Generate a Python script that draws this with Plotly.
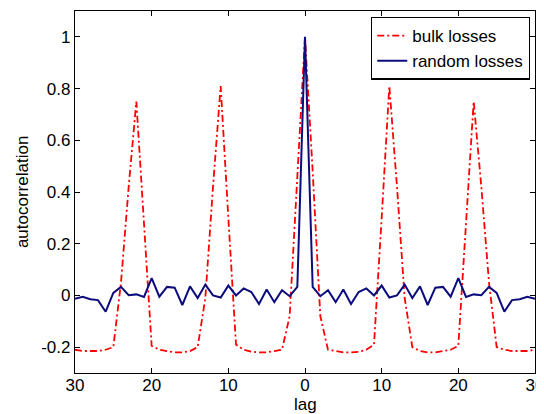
import plotly.graph_objects as go

lags = list(range(-30, 31))

bulk_losses = [
    -0.21, -0.215, -0.215, -0.215, -0.21, -0.20, 0.05, 0.42, 0.75, 0.28,
    -0.195, -0.21, -0.215, -0.22, -0.22, -0.215, -0.20, -0.01, 0.42, 0.81,
    0.30, -0.19, -0.21, -0.218, -0.22, -0.22, -0.215, -0.21, -0.08, 0.48,
    1.0,
    0.48, -0.08, -0.21, -0.215, -0.22, -0.22, -0.218, -0.21, -0.19, 0.30,
    0.81, 0.42, -0.01, -0.20, -0.215, -0.22, -0.22, -0.215, -0.21, -0.195,
    0.28, 0.75, 0.42, 0.05, -0.20, -0.21, -0.215, -0.215, -0.215, -0.21,
]

random_losses = [
    -0.013, -0.005, -0.015, -0.018, -0.063, 0.010, 0.033, 0.001, 0.004, -0.006,
    0.067, -0.005, 0.033, 0.030, -0.037, 0.035, -0.010, 0.042, 0.000, -0.008,
    0.038, 0.000, 0.027, 0.013, -0.033, 0.023, -0.026, 0.020, -0.003, 0.033,
    1.0,
    0.033, -0.003, 0.020, -0.026, 0.023, -0.033, 0.013, 0.027, 0.000, 0.038,
    -0.008, 0.000, 0.042, -0.010, 0.035, -0.037, 0.030, 0.033, -0.005, 0.067,
    -0.006, 0.004, 0.001, 0.033, 0.010, -0.063, -0.018, -0.015, -0.005, -0.013,
]

x_tick_vals = [-30, -20, -10, 0, 10, 20, 30]
x_tick_text = ["30", "20", "10", "0", "10", "20", "30"]
y_tick_vals = [-0.2, 0, 0.2, 0.4, 0.6, 0.8, 1]
y_tick_text = ["-0.2", "0", "0.2", "0.4", "0.6", "0.8", "1"]

FONT = "Liberation Sans, Arial, Helvetica, sans-serif"
FS = 17

fig = go.Figure()
fig.add_trace(go.Scatter(
    x=lags, y=bulk_losses, mode="lines", name="bulk losses",
    line=dict(color="#ff0000", width=1.8, dash="7px,3px,2px,3px"),
))
fig.add_trace(go.Scatter(
    x=lags, y=random_losses, mode="lines", name="random losses",
    line=dict(color="#0c0c7c", width=2),
))

axis_common = dict(
    showline=True, linecolor="black", linewidth=1.3, mirror="ticks",
    ticks="inside", ticklen=5, tickcolor="black", tickwidth=1, showgrid=False,
    zeroline=False, tickfont=dict(size=FS, color="black", family=FONT),
    automargin=False, ticklabeloverflow="allow",
)

# The page body adds an 8px offset, so the figure is 8px smaller
fig.update_layout(
    width=536, height=406,
    margin=dict(l=67, r=9, t=3, b=41),
    paper_bgcolor="white", plot_bgcolor="white",
    font=dict(family=FONT, size=FS, color="black"),
    xaxis=dict(range=[-30, 30], tickvals=x_tick_vals, ticktext=x_tick_text,
               ticklabelstandoff=-4, **axis_common),
    yaxis=dict(range=[-0.3, 1.1], tickvals=y_tick_vals, ticktext=y_tick_text,
               **axis_common),
    legend=dict(x=0.989, y=0.984, xanchor="right", yanchor="top",
                bordercolor="black", borderwidth=1.3, bgcolor="white",
                font=dict(size=FS, family=FONT), tracegroupgap=0, itemwidth=30),
    showlegend=True,
    annotations=[
        dict(text="lag", xref="paper", yref="paper", x=0.5, y=-0.087,
             xanchor="center", yanchor="middle", showarrow=False, borderpad=0,
             font=dict(size=FS, family=FONT, color="black")),
        dict(text="autocorrelation", xref="paper", yref="paper", x=-0.115,
             y=0.5, xanchor="center", yanchor="middle", textangle=-90,
             showarrow=False, font=dict(size=FS, family=FONT, color="black")),
    ],
)

fig.write_html("out.html")
